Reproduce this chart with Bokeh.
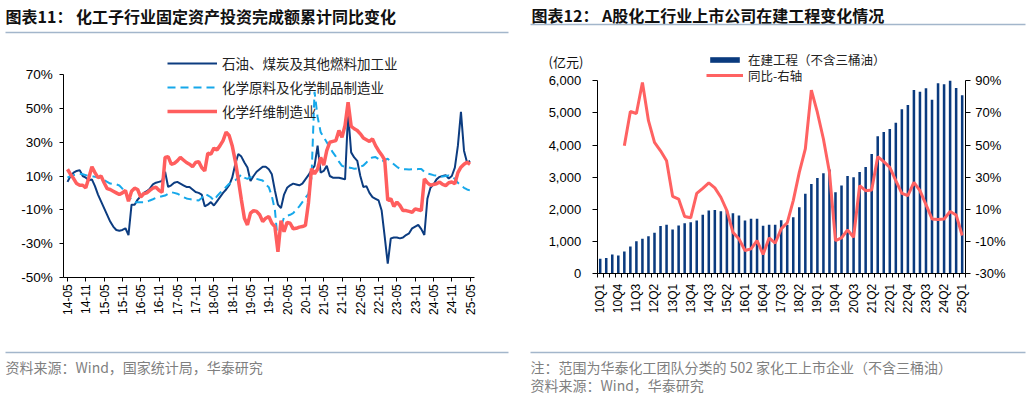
import numpy as np
from bokeh.plotting import figure
from bokeh.models import (Range1d, LinearAxis, FixedTicker, Legend, LegendItem,
                          NumeralTickFormatter, PrintfTickFormatter)
from bokeh.layouts import row
from bokeh.core.properties import value
from bokeh.embed import file_html
from bokeh.resources import INLINE

CJK = "Noto Sans CJK SC"
LAT = "Liberation Sans"

# ---------------- left chart data (monthly, 14-05 .. 25-05) ----------------
month_ticks = ["14-05", "14-11", "15-05", "15-11", "16-05", "16-11", "17-05", "17-11",
               "18-05", "18-11", "19-05", "19-11", "20-05", "20-11", "21-05", "21-11",
               "22-05", "22-11", "23-05", "23-11", "24-05", "24-11", "25-05"]
petro = [6.5, 10, 12, 13, 13.5, 10, 9, 7.5, 8, 4,
         -1, -5, -9, -13, -17, -20, -22, -22.5, -22, -21,
         -25, -7, -7, -4, -2, 0, 1, 2.5, 5, 6,
         6.5, 7, 12.5, 3.5, 4.5, 6, 6.5, 5.5, 4.5, 3.5,
         3.5, 2, 0.5, 0, -1, -8, -7, -5.5, -7.5, -5,
         -2.5, 0, 2, 4.5, 9, 17, 23, 21.5, 18, 15,
         7, 10, 12.5, 14, 15.5, 15.5, 14, 11, 1.4, -7,
         -9, -1, 3, 4.5, 5.5, 5, 4.5, 5.5, 8, 10.5,
         13.5, 16, 28, 12, 13, 16, 10, 9, 9, 9,
         8.5, 8, 47, 24, 21, 19, 10, 3.5, 4, 0,
         -2.5, -3.5, -4.5, -10.5, -26, -42, -27, -26.5, -26.5, -27,
         -26.5, -25, -24, -21, -20, -19, -21.5, -25, -3.5, 3,
         5, 8, 9.5, 10, 10.5, 8.5, 10, 15, 28, 48,
         25, 18, 19]
chem = [9, 10, 10.5, 11, 11.3, 11, 10.5, 10, 10, 9.5,
        9.3, 8.5, 7.5, 6.5, 5.5, 5.2, 5, 4.4, 2.5, 0,
        -2.5, -4, -5.5, -5.5, -5.5, -5.5, -5.3, -4.5, -3.8, -3,
        -2.5, -2, -1.6, -0.5, 0.4, 0, -0.5, -1.5, -2.5, -3.3,
        -3.7, -4, -4.3, -4.5, -3, -0.6, -1.5, -2.6, -4.5, -2,
        0, 1.5, 3.5, 5.4, 6.5, 7.5, 9, 10.9, 9, 8.3,
        9.3, 8.8, 8.3, 7.8, 7.3, 5, 3.4, -2, -10, -30,
        -20, -14.5, -13.5, -13, -12, -10, -8, -5.5, -3, -0.6,
        9, 60, 45, 36, 33, 30, 27, 24, 21.5, 18.5,
        16, 15.5, 15.2, 14.8, 14.3, 14.5, 15.5, 16.2, 18, 20,
        21, 21.2, 20, 18.5, 19.5, 20.2, 18.5, 17, 15.5, 14.2,
        14, 14, 13.9, 14, 14, 14.1, 14.2, 12.5, 11.5, 11,
        10.5, 10.3, 10, 9.7, 10, 10.3, 9.5, 8.3, 6, 4.4,
        3, 2, 1.4]
fiber = [14, 11, 8.5, 5.5, 4.5, 4.5, 3, 9, 15.5, 12,
         9, 10, 6, 2.5, 2, 1, 0, -1, 0, 1.4,
         -5, 1, 2.8, 2, -2.5, -0.5, 0, 1.5, 2.8, 3.3,
         1.5, 0.3, 21, 21.5, 17, 17.5, 19, 21, 19.5, 18,
         17, 15.5, 18, 18.5, 15, 13, 23.5, 23, 26.5, 25.5,
         28, 31, 36, 34, 28, 19, 8, -4, -15, -19,
         -12, -10.5, -11, -13, -17, -15, -14, -18, -20, -35,
         -16.5, -23, -17.5, -18, -21.3, -21, -20.3, -20, -19.3, -6,
         14.3, 11.3, 14, 21, 16.5, 25, 30, 30.5, 31, 37,
         33, 40, 53.8, 39.5, 38, 37, 35, 32.5, 31.5, 30.5,
         32, 28, 25, 22.5, 19.5, -4.5, -3.5, -8, -5.5, -7.5,
         -10.5, -10.5, -11, -11.5, -9.5, -10, -10.5, 8.3, 6, 4.5,
         5, 5.4, 6.4, 5, 4.3, 6, 6.4, 5.4, 12, 15.2,
         17, 18.2, 17]
series_names = ["石油、煤炭及其他燃料加工业", "化学原料及化学制品制造业", "化学纤维制造业"]
pct_ticks_L = [-50, -30, -10, 10, 30, 50, 70]

# ---------------- right chart data (quarterly, 10Q1 .. 25Q1) ----------------
quarters = [f"{y}Q{q}" for y in range(10, 26) for q in range(1, 5)][:61]
cip = [466, 490, 600, 570, 693, 848, 1014, 1087, 1170, 1280, 1485, 1521,
       1377, 1500, 1568, 1604, 1656, 1838, 1967, 1982, 1946, 1960, 1884, 1811,
       1656, 1708, 1708, 1491, 1522, 1522, 1666, 1522, 1760, 2069, 2485, 2795,
       2982, 3126, 3240, 2535, 2743, 3044, 2999, 3168, 3323, 3727, 4274, 4409,
       4502, 4699, 5113, 5248, 5714, 5662, 5766, 5414, 5921, 5890, 6004, 5776,
       5548]
yoy_start = 4  # YoY begins at 11Q1
cip_yoy = [49.6, 70.9, 69.7, 88.9, 65.2, 51.7, 46.5, 40.3, 18.2, 16.5, 5.6, 4.8,
           20, 23.1, 26.5, 23.4, 17.6, 9.3, -4.2, -8.3, -15.5, -14.5, -9.3, -18,
           -7.7, -11, -2.1, 1.7, 15.5, 33.1, 47.6, 84.2, 70.3, 53.8, 33.1, -9.3,
           -7.7, -2.7, -7.3, 24.8, 21.7, 22.1, 42.8, 39.7, 36.2, 27.9, 20, 18.6,
           26.9, 21.7, 13, 4.1, 3.7, 4.1, 8.7, 6.6, -6.2]
cip_ticks = [0, 1000, 2000, 3000, 4000, 5000, 6000]
yoy_ticks = [-30, -10, 10, 30, 50, 70, 90]

titleL = "图表11： 化工子行业固定资产投资完成额累计同比变化"
titleR = "图表12： A股化工行业上市公司在建工程变化情况"
srcL = "资料来源：Wind，国家统计局，华泰研究"
noteR = "注：范围为华泰化工团队分类的 502 家化工上市企业（不含三桶油）"
srcR = "资料来源：Wind，华泰研究"

SEP = "#A3B6CB"
GREY = "#7F7F7F"
H = 398
W_L, W_R = 520, 510


def affine(v_a, p_a, v_b, p_b):
    """pixel -> data mapping through two anchor points"""
    k = (v_b - v_a) / (p_b - p_a)
    return lambda p: v_a + (p - p_a) * k


def base_fig(w, xmap, ymap):
    p = figure(width=w, height=H, output_backend="svg", toolbar_location=None,
               x_axis_type=None, y_axis_type=None, min_border=0,
               x_range=Range1d(xmap(0), xmap(w)), y_range=Range1d(ymap(H), ymap(0)))
    p.title.visible = False
    p.outline_line_color = None
    p.grid.visible = False
    p.extra_x_ranges = {"px": Range1d(0, w)}
    p.extra_y_ranges = {"px": Range1d(H, 0)}
    return p


def style_axis(ax, size="13px"):
    ax.axis_line_color = "#000000"
    ax.major_tick_line_color = "#000000"
    ax.minor_tick_line_color = "#000000"
    ax.major_label_text_font = LAT
    ax.major_label_text_font_size = size
    ax.major_label_text_color = "#000000"
    ax.major_tick_in = 0
    ax.minor_tick_in = 0
    ax.minor_tick_out = 0


def px_text(p, x, y, txt, size, color, bold=False):
    p.text(x=x, y=y, text=txt, text_font=value(CJK), text_font_size=size,
           text_font_style="bold" if bold else "normal", text_baseline="middle",
           text_align="left", text_color=color, x_range_name="px", y_range_name="px")


def px_rule(p, x0, x1, y):
    p.segment(x0=[x0], y0=[y], x1=[x1], y1=[y], line_color=SEP, line_width=1.5,
              x_range_name="px", y_range_name="px")


# ---------------- left panel ----------------
xL = affine(0, 67.0, 132, 469.6)
yL = affine(70, 74.3, -50, 276.7)
pL = base_fig(W_L, xL, yL)

months = list(range(len(petro)))
r1 = pL.line(months, petro, line_color="#0C3C80", line_width=2)
r2 = pL.line(months, chem, line_color="#16A8EA", line_width=2, line_dash="8 5")
r3 = pL.line(months, fiber, line_color="#FF5E5E", line_width=3.5)

yaL = LinearAxis(fixed_location=xL(63.3), bounds=(pct_ticks_L[0], pct_ticks_L[-1]),
                 ticker=FixedTicker(ticks=pct_ticks_L, minor_ticks=[]),
                 formatter=PrintfTickFormatter(format="%d%%"))
style_axis(yaL, "13.5px")
yaL.major_tick_out = 4
yaL.major_label_standoff = 7
pL.add_layout(yaL, "left")

xaL = LinearAxis(fixed_location=pct_ticks_L[0], bounds=(xL(63.3), xL(474)),
                 ticker=FixedTicker(ticks=[i * 6 for i in range(len(month_ticks))], minor_ticks=[]))
xaL.major_label_overrides = {i * 6: lbl for i, lbl in enumerate(month_ticks)}
style_axis(xaL, "12px")
xaL.major_label_orientation = np.pi / 2
xaL.major_tick_out = 4
xaL.major_label_standoff = 3
pL.add_layout(xaL, "below")

legL = Legend(items=[LegendItem(label=series_names[0], renderers=[r1]),
                     LegendItem(label=series_names[1], renderers=[r2]),
                     LegendItem(label=series_names[2], renderers=[r3])],
              location=(167, H - 121), orientation="vertical",
              glyph_width=50, glyph_height=20, label_height=20, spacing=4,
              padding=0, margin=0, label_standoff=5,
              border_line_color=None, background_fill_alpha=0,
              label_text_font=CJK, label_text_font_size="13.5px", label_text_color="#222222")
pL.add_layout(legL)

px_text(pL, [5], [15.5], [titleL], "16px", "#111111", bold=True)
px_rule(pL, 5, 508, 32)
px_rule(pL, 5, 508, 352)
px_text(pL, [5], [366], [srcL], "14px", GREY)

# ---------------- right panel ----------------
xR = affine(0, 79.7, 60, 79.7 + 60 * 6.033)
yR = affine(0, 273.3, 6000, 80.3)
yY = affine(-30, 273.3, 90, 80.3)
pR = base_fig(W_R, xR, yR)
pR.extra_y_ranges["yoy"] = Range1d(yY(H), yY(0))

qidx = list(range(len(cip)))
bars = pR.vbar(x=qidx, top=cip, width=0.42, bottom=0, fill_color="#0A3A7E", line_color=None)
yl = pR.line(qidx[yoy_start:], cip_yoy, y_range_name="yoy", line_color="#FF6262", line_width=3)

yaR = LinearAxis(fixed_location=-0.5, bounds=(cip_ticks[0], cip_ticks[-1]),
                 ticker=FixedTicker(ticks=cip_ticks, minor_ticks=[]),
                 formatter=NumeralTickFormatter(format="0,0"))
style_axis(yaR, "13px")
yaR.major_tick_out = 5
yaR.major_label_standoff = 11
pR.add_layout(yaR, "left")

ax2 = LinearAxis(y_range_name="yoy", fixed_location=len(quarters) - 0.5,
                 bounds=(yoy_ticks[0], yoy_ticks[-1]),
                 ticker=FixedTicker(ticks=yoy_ticks, minor_ticks=[]),
                 formatter=PrintfTickFormatter(format="%d%%"))
style_axis(ax2, "13px")
ax2.major_tick_out = 5
ax2.major_label_standoff = 5
pR.add_layout(ax2, "right")

xaR = LinearAxis(fixed_location=0, bounds=(-0.5, len(quarters) - 0.5),
                 ticker=FixedTicker(ticks=list(range(0, len(quarters), 3)),
                                    minor_ticks=[i - 0.5 for i in range(len(quarters) + 1)]))
xaR.major_label_overrides = {i: quarters[i] for i in range(0, len(quarters), 3)}
style_axis(xaR, "12px")
xaR.major_label_orientation = np.pi / 2
xaR.major_tick_out = 0
xaR.minor_tick_out = 4
xaR.major_label_standoff = 6
pR.add_layout(xaR, "below")

legR1 = Legend(items=[LegendItem(label="在建工程（不含三桶油）", renderers=[bars])],
               location=(186, H - 68.5), glyph_width=37, glyph_height=7, label_height=7,
               spacing=0, padding=0, margin=0, label_standoff=5,
               border_line_color=None, background_fill_alpha=0,
               label_text_font=CJK, label_text_font_size="12.5px", label_text_color="#222222")
legR2 = Legend(items=[LegendItem(label="同比-右轴", renderers=[yl])],
               location=(186, H - 84.5), glyph_width=37, glyph_height=14, label_height=14,
               spacing=0, padding=0, margin=0, label_standoff=5,
               border_line_color=None, background_fill_alpha=0,
               label_text_font=CJK, label_text_font_size="12.5px", label_text_color="#222222")
pR.add_layout(legR1)
pR.add_layout(legR2)

px_text(pR, [28], [61], ["(亿元)"], "13px", "#111111")
px_text(pR, [11], [14], [titleR], "16px", "#111111", bold=True)
px_rule(pR, 10, 505, 24)
px_rule(pR, 10, 505, 352)
px_text(pR, [10, 10], [366, 384], [noteR, srcR], "14px", GREY)

layout = row(pL, pR)
open("out.html", "w").write(file_html(layout, INLINE))
